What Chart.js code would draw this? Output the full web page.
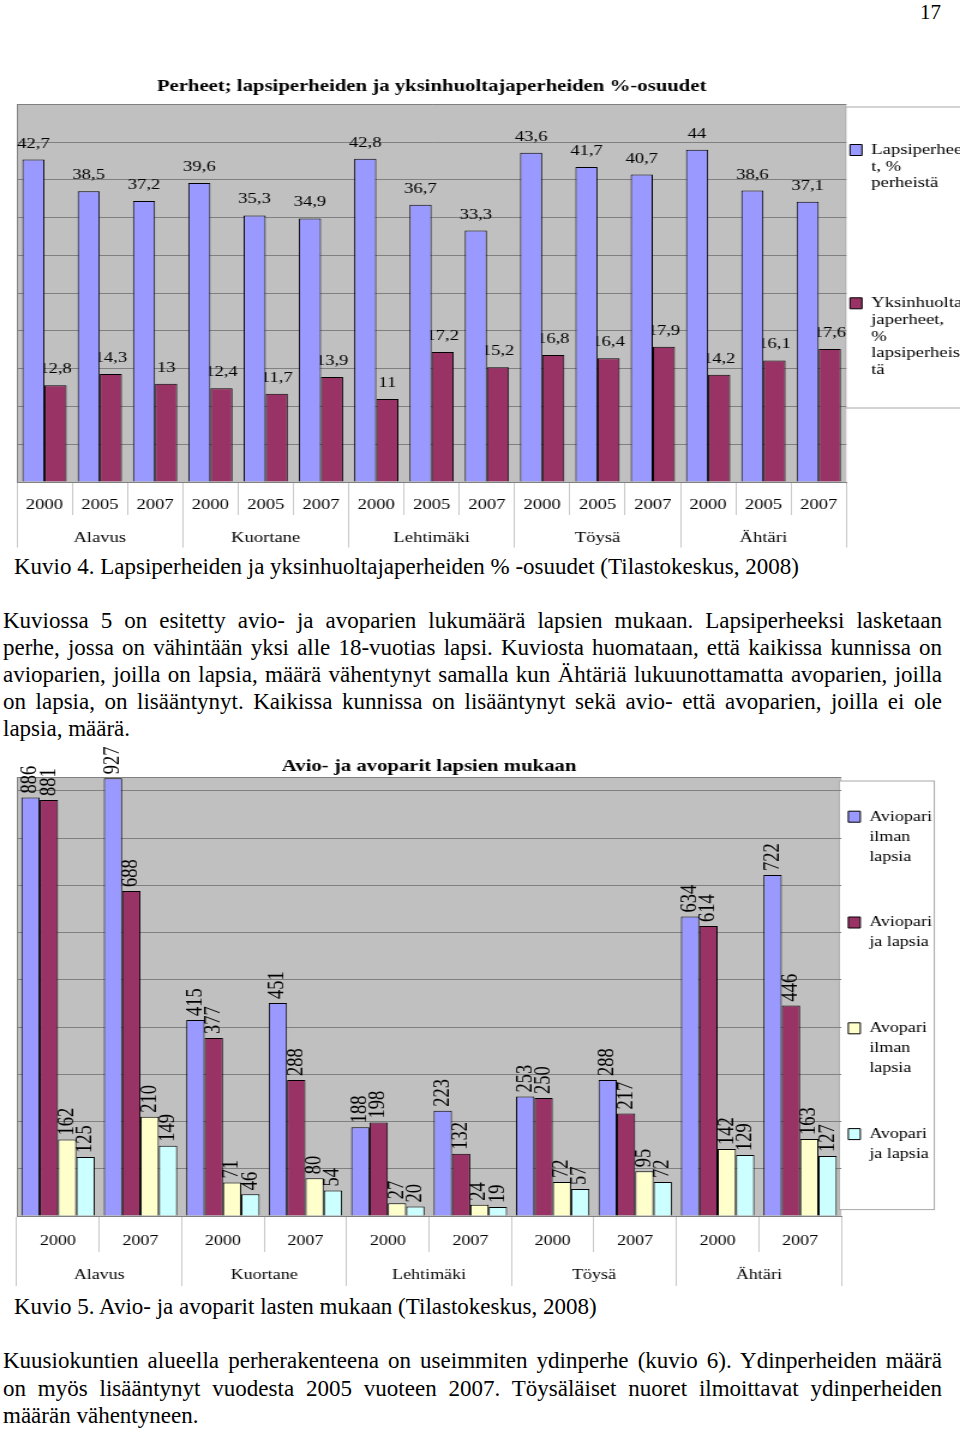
<!DOCTYPE html>
<html>
<head>
<meta charset="utf-8">
<script src="https://cdn.jsdelivr.net/npm/chart.js@4.4.1/dist/chart.umd.min.js"></script>
<style>
body { margin: 0; background: #fff; }
#page { position: relative; width: 960px; height: 1433px; overflow: hidden; font-family: "Liberation Serif", "Times New Roman", serif; color: #000; }
.t { position: absolute; left: 3px; white-space: nowrap; font-size: 23px; line-height: 27px; }
.j { position: absolute; left: 3px; width: 939px; font-size: 23px; line-height: 27px; text-align: justify; text-align-last: justify; }
/* canvases are drawn narrow and shown stretched, like the original */
#c1 { position: absolute; left: 0; top: 66px; width: 960px !important; height: 484px !important; }
#c2 { position: absolute; left: 0; top: 740px; width: 960px !important; height: 547px !important; }
</style>
</head>
<body>
<div id="page">
  <div class="t" style="left:auto;right:19px;top:0;font-size:21px;line-height:24px;">17</div>

  <canvas id="c1" width="800" height="484"></canvas>

  <div class="t" style="left:14px;top:553px;">Kuvio 4. Lapsiperheiden ja yksinhuoltajaperheiden % -osuudet (Tilastokeskus, 2008)</div>

  <div class="j" style="top:607px;">Kuviossa 5 on esitetty avio- ja avoparien lukumäärä lapsien mukaan. Lapsiperheeksi lasketaan</div>
  <div class="j" style="top:634px;">perhe, jossa on vähintään yksi alle 18-vuotias lapsi. Kuviosta huomataan, että kaikissa kunnissa on</div>
  <div class="j" style="top:661px;">avioparien, joilla on lapsia, määrä vähentynyt samalla kun Ähtäriä lukuunottamatta avoparien, joilla</div>
  <div class="j" style="top:688px;">on lapsia, on lisääntynyt. Kaikissa kunnissa on lisääntynyt sekä avio- että avoparien, joilla ei ole</div>
  <div class="t" style="top:715px;">lapsia, määrä.</div>

  <canvas id="c2" width="800" height="547"></canvas>

  <div class="t" style="left:14px;top:1293px;">Kuvio 5. Avio- ja avoparit lasten mukaan (Tilastokeskus, 2008)</div>

  <div class="j" style="top:1347px;">Kuusiokuntien alueella perherakenteena on useimmiten ydinperhe (kuvio 6). Ydinperheiden määrä</div>
  <div class="j" style="top:1375px;">on myös lisääntynyt vuodesta 2005 vuoteen 2007. Töysäläiset nuoret ilmoittavat ydinperheiden</div>
  <div class="t" style="top:1402px;">määrän vähentyneen.</div>
</div>

<script>
const towns = ['Alavus', 'Kuortane', 'Lehtimäki', 'Töysä', 'Ähtäri'];

// kuvio 4
const years1 = ['2000', '2005', '2007', '2000', '2005', '2007', '2000', '2005', '2007',
                '2000', '2005', '2007', '2000', '2005', '2007'];
const lapsiperheet = [42.7, 38.5, 37.2, 39.6, 35.3, 34.9, 42.8, 36.7, 33.3, 43.6, 41.7, 40.7, 44, 38.6, 37.1];
const yksinhuoltajat = [12.8, 14.3, 13, 12.4, 11.7, 13.9, 11, 17.2, 15.2, 16.8, 16.4, 17.9, 14.2, 16.1, 17.6];
const legend1 = [['Lapsiperhee', 't, %', 'perheistä'], ['Yksinhuolta', 'japerheet,', '%', 'lapsiperheis', 'tä']];

// kuvio 5
const years2 = ['2000', '2007', '2000', '2007', '2000', '2007', '2000', '2007', '2000', '2007'];
const avioIlman = [886, 927, 415, 451, 188, 223, 253, 288, 634, 722];
const avioLapsia = [881, 688, 377, 288, 198, 132, 250, 217, 614, 446];
const avoIlman = [162, 210, 71, 80, 27, 24, 72, 95, 142, 163];
const avoLapsia = [125, 149, 46, 54, 20, 19, 57, 72, 129, 127];
const legend2 = [['Aviopari', 'ilman', 'lapsia'], ['Aviopari', 'ja lapsia'], ['Avopari', 'ilman', 'lapsia'], ['Avopari', 'ja lapsia']];
const y2Ticks = [0, 100, 200, 300, 400, 500, 600, 700, 800, 900, 928];

const serif = 'Liberation Serif';
Chart.defaults.font.family = serif;
Chart.defaults.color = '#000';

// pad legend entries with empty lines so they spread down the box
function padLines(lines, n) {
  const out = lines.slice();
  while (out.length < n) out.push('');
  return out;
}

// gray plot area + white legend frame
const frames = {
  id: 'frames',
  beforeDraw(chart, args, opts) {
    const { ctx, chartArea: a, legend } = chart;
    ctx.save();
    ctx.fillStyle = '#c0c0c0';
    ctx.fillRect(a.left, a.top, a.right - a.left, a.bottom - a.top);
    ctx.fillStyle = '#fff';
    ctx.strokeStyle = '#a8a8a8';
    ctx.lineWidth = 1;
    ctx.fillRect(legend.left + opts.dx, legend.top + opts.dy, opts.w, opts.h);
    ctx.strokeRect(legend.left + opts.dx, legend.top + opts.dy, opts.w, opts.h);
    ctx.restore();
  }
};

// value labels, drawn under the bars like in the original
const barLabels = {
  id: 'barLabels',
  beforeDatasetsDraw(chart, args, opts) {
    const ctx = chart.ctx;
    ctx.save();
    ctx.font = opts.size + 'px "' + serif + '"';
    ctx.fillStyle = '#000';
    chart.data.datasets.forEach((ds, i) => {
      chart.getDatasetMeta(i).data.forEach((bar, j) => {
        const txt = String(ds.data[j]).replace('.', ',');
        if (opts.rotate) {
          ctx.save();
          ctx.translate(bar.x, bar.y - opts.gap);
          ctx.rotate(-Math.PI / 2);
          ctx.textAlign = 'left';
          ctx.textBaseline = 'middle';
          ctx.fillText(txt, 0, 0);
          ctx.restore();
        } else {
          ctx.textAlign = 'center';
          ctx.textBaseline = 'middle';
          ctx.fillText(txt, bar.x, bar.y - opts.gap);
        }
      });
    });
    ctx.restore();
  }
};

// two rows under the plot: years, then towns; labels sit between the separator lines
function xAxes(labels, size, tick, pad, rowH) {
  const fixRow = s => { s.height = rowH; };
  return {
    x: {
      type: 'category', position: 'bottom', weight: 0, offset: true,
      grid: { drawOnChartArea: false, tickLength: tick, color: '#c8c8c8', offset: true },
      border: { color: '#808080' },
      ticks: { padding: pad, maxRotation: 0, autoSkip: false, font: { size: size } },
      afterFit: fixRow
    },
    x2: {
      type: 'category', position: 'bottom', weight: 1, offset: true, labels: labels,
      grid: { drawOnChartArea: false, tickLength: tick, color: '#c8c8c8', offset: true },
      border: { display: false },
      ticks: { padding: pad, maxRotation: 0, autoSkip: false, font: { size: size } },
      afterFit: fixRow
    }
  };
}

const config1 = {
  type: 'bar',
  data: {
    labels: years1,
    datasets: [
      { label: legend1[0].join(''), data: lapsiperheet, backgroundColor: '#9999ff', borderColor: '#000', borderWidth: 1 },
      { label: legend1[1].join(''), data: yksinhuoltajat, backgroundColor: '#993366', borderColor: '#000', borderWidth: 1 }
    ]
  },
  options: {
    responsive: false,
    animation: false,
    devicePixelRatio: 1,
    events: [],
    categoryPercentage: 0.8,
    barPercentage: 1,
    layout: { padding: { left: 14, right: 0, top: 0, bottom: 2.8 } },
    scales: Object.assign(xAxes(towns, 15.5, 33, -19, 32.6), {
      y: {
        min: 0, max: 50,
        ticks: { display: false, stepSize: 5 },
        grid: { color: '#808080', drawTicks: false },
        border: { color: '#808080' }
      }
    }),
    plugins: {
      title: {
        display: true, fullSize: false,
        text: 'Perheet; lapsiperheiden ja yksinhuoltajaperheiden %-osuudet',
        font: { size: 17.3, weight: 'bold', lineHeight: 1.2 },
        padding: { top: 10, bottom: 7.6 }
      },
      legend: {
        position: 'right', align: 'start', maxWidth: 94.7,
        title: { display: true, text: '', font: { size: 10, lineHeight: 1 }, padding: { top: 0, bottom: 63.25 } },
        labels: {
          boxWidth: 10, boxHeight: 11, padding: 3,
          font: { size: 15.5, lineHeight: 16.7 / 15.5 },
          generateLabels: chart => chart.data.datasets.map((ds, i) => ({
            text: i < legend1.length - 1 ? padLines(legend1[i], 9) : legend1[i],
            fillStyle: ds.backgroundColor, strokeStyle: '#000', lineWidth: 1,
            fontColor: '#000', hidden: false, datasetIndex: i
          }))
        }
      },
      tooltip: { enabled: false },
      frames: { dx: -0.5, dy: 41, w: 120, h: 301 },
      barLabels: { size: 15.5, gap: 16, rotate: false }
    }
  },
  plugins: [frames, barLabels]
};

const config2 = {
  type: 'bar',
  data: {
    labels: years2,
    datasets: [
      { label: legend2[0].join(' '), data: avioIlman, backgroundColor: '#9999ff', borderColor: '#000', borderWidth: 1 },
      { label: legend2[1].join(' '), data: avioLapsia, backgroundColor: '#993366', borderColor: '#000', borderWidth: 1 },
      { label: legend2[2].join(' '), data: avoIlman, backgroundColor: '#ffffcc', borderColor: '#000', borderWidth: 1 },
      { label: legend2[3].join(' '), data: avoLapsia, backgroundColor: '#ccffff', borderColor: '#000', borderWidth: 1 }
    ]
  },
  options: {
    responsive: false,
    animation: false,
    devicePixelRatio: 1,
    events: [],
    categoryPercentage: 0.89,
    barPercentage: 1,
    layout: { padding: { left: 14, right: 13.4, top: 0, bottom: 3 } },
    scales: Object.assign(xAxes(towns, 15, 36, -20, 34), {
      y: {
        min: 0, max: y2Ticks[y2Ticks.length - 1],
        afterBuildTicks: scale => { scale.ticks = y2Ticks.map(v => ({ value: v })); },
        ticks: { display: false },
        grid: { color: '#808080', drawTicks: false },
        border: { color: '#808080' }
      }
    }),
    plugins: {
      title: {
        display: true, fullSize: false,
        text: 'Avio- ja avoparit lapsien mukaan',
        font: { size: 17.3, weight: 'bold', lineHeight: 1.2 },
        padding: { top: 16.1, bottom: 0.9 }
      },
      legend: {
        position: 'right', align: 'start',
        title: { display: true, text: '', font: { size: 10, lineHeight: 1 }, padding: { top: 0, bottom: 53.4 } },
        labels: {
          boxWidth: 10, boxHeight: 11, padding: 5.8,
          font: { size: 15, lineHeight: 20 / 15 },
          generateLabels: chart => chart.data.datasets.map((ds, i) => ({
            text: i < legend2.length - 1 ? padLines(legend2[i], 5) : legend2[i],
            fillStyle: ds.backgroundColor, strokeStyle: '#000', lineWidth: 1,
            fontColor: '#000', hidden: false, datasetIndex: i
          }))
        }
      },
      tooltip: { enabled: false },
      frames: { dx: -1.7, dy: 41, w: 79.2, h: 428.6 },
      barLabels: { size: 18.5, gap: 4, rotate: true }
    }
  },
  plugins: [frames, barLabels]
};

new Chart(document.getElementById('c1'), config1);
new Chart(document.getElementById('c2'), config2);
</script>
</body>
</html>
